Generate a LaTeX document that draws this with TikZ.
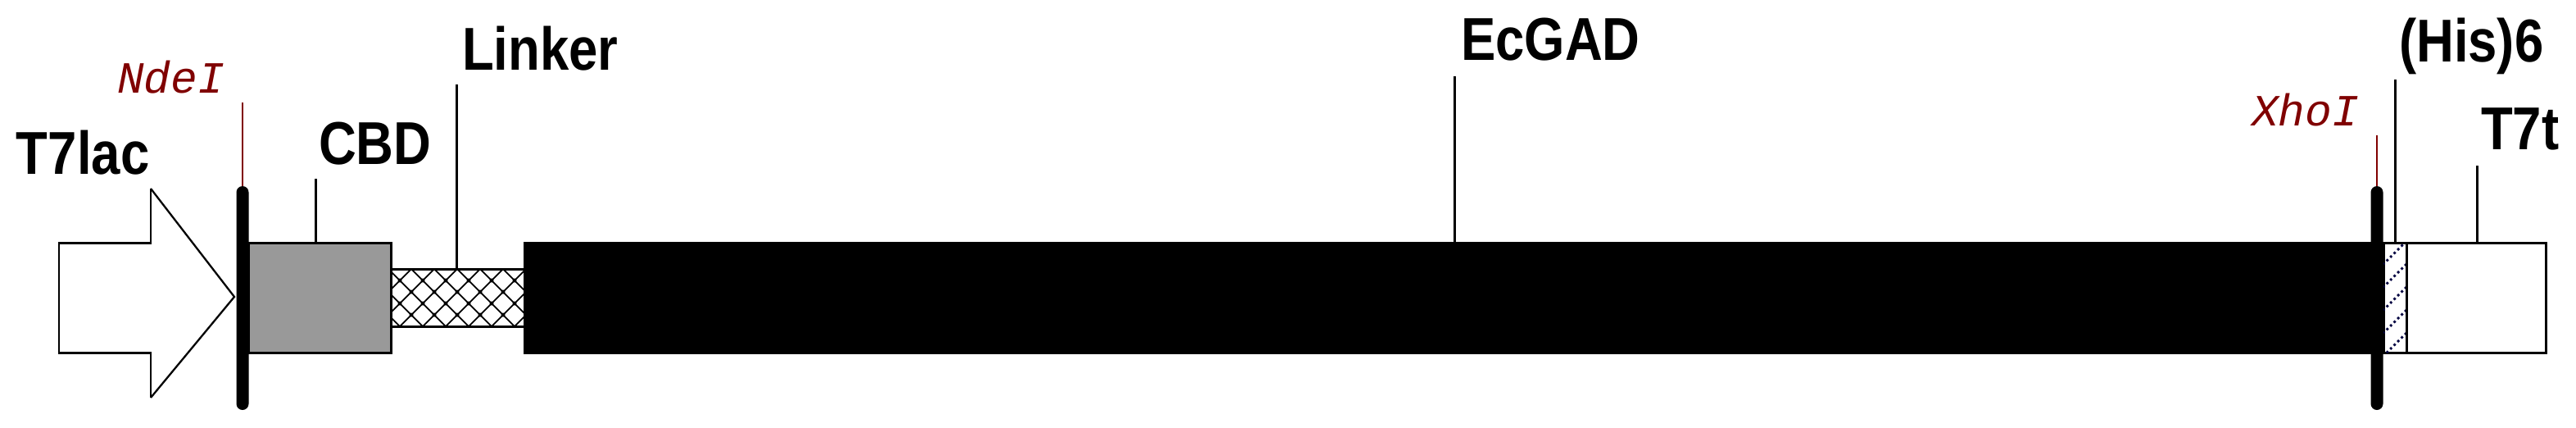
\documentclass[tikz,border=0pt]{standalone}
\usepackage{fontspec}
\usepackage{tikz}
\newfontfamily\lblfont{Liberation Sans}[FakeStretch=0.86]
\newfontfamily\sitefont{Liberation Mono}
\definecolor{sitered}{RGB}{128,0,0}
\definecolor{cbdgray}{RGB}{153,153,153}
\definecolor{hisnavy}{RGB}{0,0,64}

\begin{document}
\begin{tikzpicture}[line width=0.85pt,
            every node/.style={inner sep=0pt, outer sep=0pt},
            seg/.style={draw=black, rectangle, minimum height=1.34cm},
            site/.style={rectangle, fill=black, rounded corners=0.075cm, minimum width=0.15cm, minimum height=2.73cm},
            lbl/.style={anchor=base west, font=\lblfont\bfseries\fontsize{21}{24}\selectfont},
            sitelbl/.style={anchor=base west, text=sitered, font=\sitefont\itshape\fontsize{15.5}{18}\selectfont},
            hatchline/.style={line width=0.5pt}]
  \useasboundingbox (0,0) rectangle (31.44,5.21);

  % promoter arrow
  \draw (1.84,2.91) -- (1.84,2.25) -- (0.72,2.25) -- (0.72,0.91) -- (1.84,0.91) -- (1.84,0.36);
  \draw[line width=0.65pt] (1.84,2.91) -- (2.86,1.59) -- (1.84,0.36);

  % gene segments
  \node[seg, fill=cbdgray, minimum width=1.73cm] (cbd) at (3.905,1.58) {};
  \node[seg, fill=white, minimum width=1.63cm, minimum height=0.70cm] (linker) at (5.585,1.58) {};
  \begin{scope}
    \clip (linker.south west) rectangle (linker.north east);
    \foreach \n in {-3,...,8} {
      \draw[hatchline] (4.32+0.28*\n,1.23) -- ++(0.7,0.7);
      \draw[hatchline] (5.44+0.28*\n,1.23) -- ++(-0.7,0.7);
    }
    \foreach \k in {0,...,5} {
      \fill (4.88+0.28*\k,1.79) circle (0.025) (4.88+0.28*\k,1.51) circle (0.025)
            (5.02+0.28*\k,1.65) circle (0.025) (5.02+0.28*\k,1.37) circle (0.025);
    }
  \end{scope}
  \draw (linker.north west) -- (linker.north east) (linker.south west) -- (linker.south east);
  \node[seg, fill=black, minimum width=22.53cm] (gad) at (17.665,1.58) {};
  \node[seg, fill=white, minimum width=0.28cm] (his) at (29.23,1.58) {};
  \begin{scope}
    \clip (his.south west) rectangle (his.north east);
    \foreach \n in {-1,...,5}
      \draw[hisnavy, densely dotted, line width=0.8pt] (29.37,1.99-0.28*\n) -- ++(-0.28,-0.28);
  \end{scope}
  \node[seg, fill=white, minimum width=1.70cm] (t7t) at (30.22,1.58) {};

  % restriction sites
  \node[site] (ndebar) at (2.96,1.575) {};
  \node[site] (xhobar) at (29.01,1.575) {};

  % labels
  \node[lbl] (t7lac) at (0.20,3.09) {T7lac};
  \node[sitelbl] (ndeI) at (1.43,4.08) {NdeI};
  \node[lbl] (cbdlbl) at (3.89,3.21) {CBD};
  \node[lbl] (linkerlbl) at (5.64,4.36) {Linker};
  \node[lbl] (gadlbl) at (17.83,4.48) {EcGAD};
  \node[sitelbl] (xhoI) at (27.48,3.68) {XhoI};
  \node[lbl] (hislbl) at (29.28,4.46) {(His)6};
  \node[lbl] (t7tlbl) at (30.28,3.39) {T7t};

  % leaders
  \coordinate (ndetop) at (2.96,3.96);
  \coordinate (xhotop) at (29.01,3.56);
  \coordinate (cbdtop) at (3.85,3.03);
  \coordinate (linkertop) at (5.57,4.18);
  \coordinate (gadtop) at (17.75,4.28);
  \coordinate (histop) at (29.23,4.24);
  \coordinate (t7ttop) at (30.23,3.19);
  \draw[sitered, line width=0.7pt] (ndetop) -- (ndebar.north);
  \draw[sitered, line width=0.7pt] (xhotop) -- (xhobar.north);
  \draw (cbdtop) -- (cbdtop |- cbd.north);
  \draw (linkertop) -- (linkertop |- linker.north);
  \draw (gadtop) -- (gadtop |- gad.north);
  \draw (histop) -- (histop |- his.north);
  \draw (t7ttop) -- (t7ttop |- t7t.north);
\end{tikzpicture}
\end{document}
